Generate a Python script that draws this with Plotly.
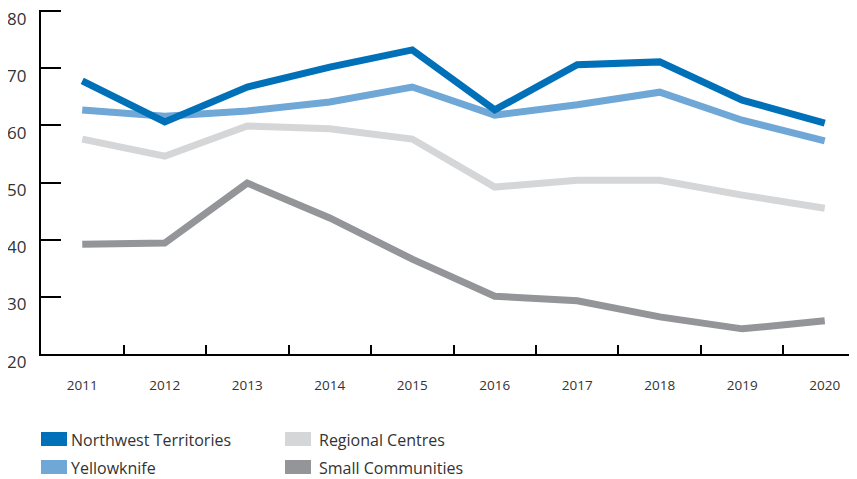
import plotly.graph_objects as go

years = ["2011", "2012", "2013", "2014", "2015", "2016", "2017", "2018", "2019", "2020"]
nwt = [67.8, 60.6, 66.7, 70.2, 73.2, 62.7, 70.6, 71.1, 64.4, 60.4]
yellowknife = [62.7, 61.6, 62.5, 64.1, 66.7, 61.8, 63.6, 65.8, 60.9, 57.3]
regional = [57.6, 54.6, 59.9, 59.4, 57.6, 49.2, 50.4, 50.4, 47.8, 45.5]
small = [39.2, 39.4, 49.9, 43.8, 36.6, 30.1, 29.3, 26.5, 24.4, 25.8]
y_ticks = [20, 30, 40, 50, 60, 70, 80]

names = ["Northwest Territories", "Yellowknife", "Regional Centres", "Small Communities"]
colors = ["#0071b9", "#6fa7d6", "#d5d6d8", "#939598"]
series = [nwt, yellowknife, regional, small]

x = list(range(len(years)))
fig = go.Figure()
for name, vals, col in reversed(list(zip(names, series, colors))):
    fig.add_trace(go.Scatter(x=x, y=vals, mode="lines", name=name,
                             line=dict(color=col, width=7), showlegend=False))

OFF = 8  # page body margin
W, H = 857 - OFF, 479 - OFF
ml, mt = 41 - OFF, 10 - OFF
mb = H - (354 - OFF)
PW, PH = W - ml, H - mb - mt
fig.update_layout(
    width=W, height=H, autosize=False,
    margin=dict(l=ml, r=0, t=mt, b=mb, pad=0),
    paper_bgcolor="white", plot_bgcolor="white",
    font=dict(family="Open Sans", color="#333333"),
    showlegend=False,
    xaxis=dict(range=[-0.5, 9.391], tickmode="array", tickvals=x, ticktext=years,
               ticks="", showgrid=False, zeroline=False, showline=True,
               linecolor="black", linewidth=2, tickfont=dict(size=13.5, color="#333333"),
               ticklabelstandoff=18,
               minor=dict(tickmode="array", tickvals=[i + 0.5 for i in x],
                          ticks="inside", ticklen=9, tickwidth=2, tickcolor="black",
                          showgrid=False)),
    yaxis=dict(range=[20, 80.18], tickmode="array", tickvals=y_ticks,
               showticklabels=False,
               ticks="inside", ticklen=20, tickwidth=2, tickcolor="black",
               showgrid=False, zeroline=False, showline=True, linecolor="black",
               linewidth=2),
)

# y tick labels (sit slightly below their ticks, as in the original)
for v in y_ticks:
    fig.add_annotation(xref="paper", yref="y", x=0, y=v, xanchor="right", yanchor="middle",
                       xshift=-13, yshift=-7, showarrow=False, text=str(v),
                       font=dict(size=17, color="#333333"))

# manual legend (two columns); positions in page pixels
leg = [(41, 432, 0), (41, 460, 1), (285, 432, 2), (285, 460, 3)]
for (lx, ly, i) in leg:
    fx, fy = lx - OFF, ly - OFF
    fig.add_shape(type="rect", xref="paper", yref="paper",
                  x0=(fx - ml) / PW, x1=(fx + 26 - ml) / PW,
                  y0=(H - mb - (fy + 14)) / PH, y1=(H - mb - fy) / PH,
                  fillcolor=colors[i], line=dict(width=0))
    tx = fx + 28 if i < 2 else fx + 32
    fig.add_annotation(xref="paper", yref="paper",
                       x=(tx - ml) / PW, y=(H - mb - (fy + 8)) / PH,
                       xanchor="left", yanchor="middle", showarrow=False,
                       text=names[i], font=dict(size=16, color="#333333"))

fig.write_html("out.html")
